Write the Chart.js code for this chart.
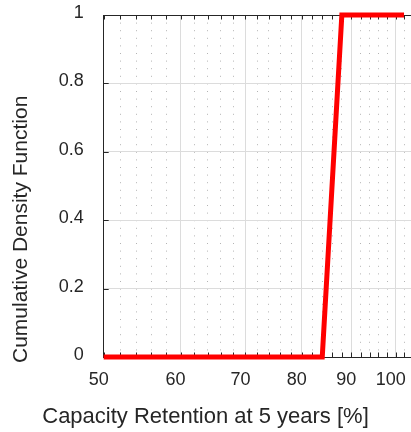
<!DOCTYPE html>
<html><head><meta charset="utf-8">
<script src="https://cdn.jsdelivr.net/npm/chart.js@4/dist/chart.umd.min.js"></script>
<style>html,body{margin:0;padding:0;background:#fff;overflow:hidden}</style>
</head><body>
<canvas id="c" width="411" height="432"></canvas>
<script>
// ---- data ----
const retention = [50, 84, 88, 102];
const cdf = [0, 0, 1, 1];
const xMajorTicks = [50, 60, 70, 80, 90, 100];
const xMinorTicks = [52, 54, 56, 58, 62, 64, 66, 68, 72, 74, 76, 78, 82, 84, 86, 88, 92, 94, 96, 98, 102];
const yTicks = [0, 0.2, 0.4, 0.6, 0.8, 1];
const xRange = [50, 103.7];
const yRange = [0, 1];
const xTitle = 'Capacity Retention at 5 years [%]';
const yTitle = 'Cumulative Density Function';

const INK = '#262626';
const FONT = 'Liberation Sans, Arial, Helvetica, sans-serif';

const points = retention.map((x, i) => ({x: x, y: cdf[i]}));
const allXTicks = xMajorTicks.concat(xMinorTicks).sort((a, b) => a - b);

const tickMarks = {
  id: 'tickMarks',
  beforeDatasetsDraw(chart) {
    const {ctx, chartArea: a, scales: {x, y}} = chart;
    ctx.save();
    ctx.strokeStyle = INK;
    ctx.lineWidth = 1;
    ctx.beginPath();
    ctx.moveTo(a.left, Math.round(a.top) + 0.5);
    ctx.lineTo(a.right, Math.round(a.top) + 0.5);
    x.ticks.forEach(t => {
      const px = Math.round(x.getPixelForValue(t.value)) + 0.5;
      ctx.moveTo(px, a.top); ctx.lineTo(px, a.top + 4.5);
      ctx.moveTo(px, a.bottom); ctx.lineTo(px, a.bottom - 4.5);
    });
    y.ticks.forEach(t => {
      const py = Math.round(y.getPixelForValue(t.value)) + 0.5;
      ctx.moveTo(a.left, py); ctx.lineTo(a.left + 5, py);
    });
    ctx.stroke();
    ctx.restore();
  }
};

new Chart(document.getElementById('c'), {
  type: 'line',
  data: {
    datasets: [{
      data: points,
      borderColor: '#ff0000',
      borderWidth: 5,
      borderJoinStyle: 'miter',
      borderCapStyle: 'butt',
      pointRadius: 0,
      tension: 0,
      fill: false,
      clip: 10
    }]
  },
  options: {
    responsive: false,
    animation: false,
    devicePixelRatio: 1,
    layout: {padding: {top: 15, right: 0, bottom: 0, left: 0}},
    plugins: {
      legend: {display: false},
      tooltip: {enabled: false},
      title: {
        display: true, text: xTitle, position: 'bottom', color: INK,
        font: {family: FONT, size: 22, weight: 'normal'},
        padding: {top: 0, bottom: 2}
      },
      subtitle: {
        display: true, text: yTitle + '  ', position: 'left', color: INK,
        font: {family: FONT, size: 21, weight: 'normal'},
        padding: {top: 9, bottom: 0}
      }
    },
    scales: {
      x: {
        type: 'logarithmic', position: 'bottom', bounds: 'data',
        min: xRange[0], max: xRange[1],
        afterBuildTicks: s => { s.ticks = allXTicks.map(v => ({value: v})); },
        afterFit: s => { s.height = 46.6; s.paddingRight = 0; },
        ticks: {
          autoSkip: false, maxRotation: 0, padding: 12, color: INK, labelOffset: -5,
          font: {family: FONT, size: 18},
          callback: v => xMajorTicks.includes(v) ? String(v) : ''
        },
        grid: {
          drawTicks: false, lineWidth: 1,
          color: c => (c.tick && xMajorTicks.includes(c.tick.value)) ? '#dcdcdc' : 'rgba(0,0,0,0)'
        },
        border: {display: true, color: INK, width: 1}
      },
      x2: {
        type: 'logarithmic', position: 'top', bounds: 'data',
        min: xRange[0], max: xRange[1],
        afterBuildTicks: s => { s.ticks = xMinorTicks.map(v => ({value: v})); },
        afterFit: s => { s.height = 0; s.paddingRight = 0; s.paddingLeft = 0; },
        ticks: {display: false},
        grid: {drawTicks: false, color: '#b4b4b4', lineWidth: 1},
        border: {display: false, dash: [1, 6.6]}
      },
      y: {
        type: 'linear', position: 'left',
        min: yRange[0], max: yRange[1],
        afterBuildTicks: s => { s.ticks = yTicks.map(v => ({value: v})); },
        afterFit: s => { s.width = 69.5; s.paddingTop = 0; s.paddingBottom = 0; },
        ticks: {
          padding: 20, color: INK, labelOffset: -2,
          font: {family: FONT, size: 18},
          callback: v => String(v)
        },
        grid: {drawTicks: false, color: '#dcdcdc', lineWidth: 1},
        border: {display: true, color: INK, width: 1}
      }
    }
  },
  plugins: [tickMarks]
});
</script>
</body></html>
